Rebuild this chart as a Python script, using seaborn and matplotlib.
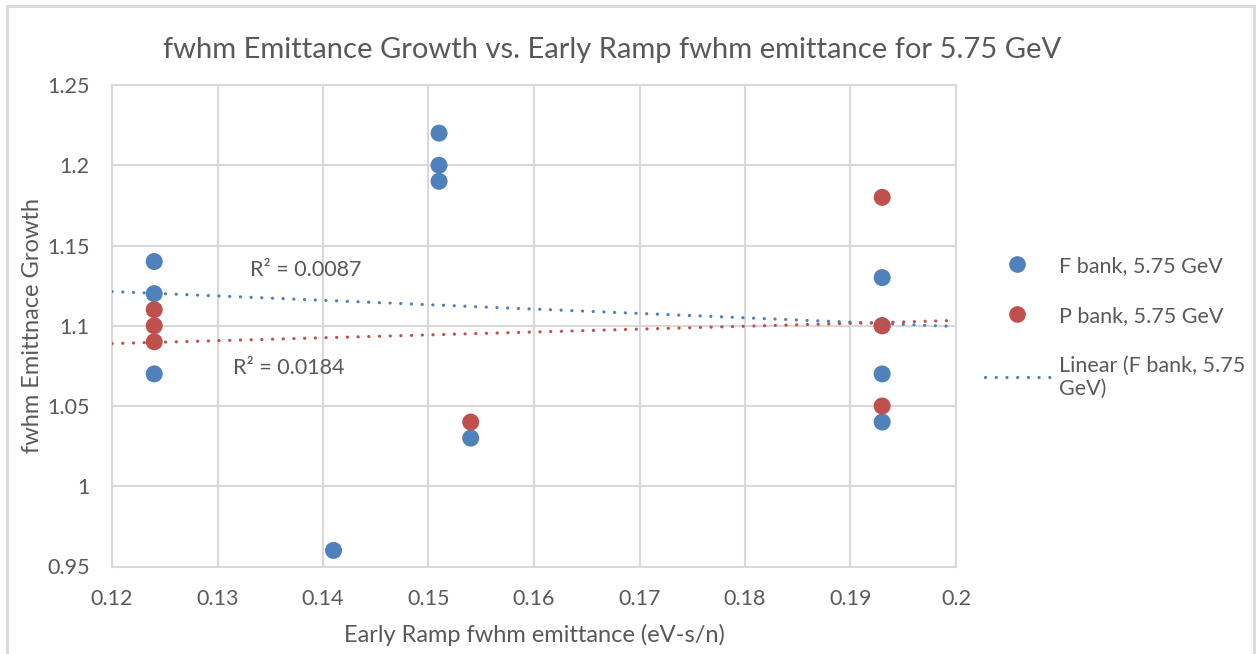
import matplotlib
matplotlib.use("Agg")
import matplotlib.pyplot as plt
import seaborn as sns
import pandas as pd
from matplotlib.patches import Rectangle
from matplotlib.lines import Line2D

# ---- data ----
f_x = [0.124, 0.124, 0.124, 0.141, 0.151, 0.151, 0.151, 0.154, 0.193, 0.193, 0.193, 0.193]
f_y = [1.14, 1.12, 1.07, 0.96, 1.22, 1.20, 1.19, 1.03, 1.13, 1.10, 1.07, 1.04]
p_x = [0.124, 0.124, 0.124, 0.154, 0.193, 0.193, 0.193]
p_y = [1.11, 1.10, 1.09, 1.04, 1.18, 1.10, 1.05]
trend_x = [0.12, 0.20]
trend_f = [1.1213, 1.0995]
trend_p = [1.0889, 1.1033]
series_names = ["F bank, 5.75 GeV", "P bank, 5.75 GeV"]
trend_name = "Linear (F bank, 5.75\nGeV)"
r2_f = "R² = 0.0087"
r2_p = "R² = 0.0184"
x_ticks = [0.12, 0.13, 0.14, 0.15, 0.16, 0.17, 0.18, 0.19, 0.2]
x_tick_labels = ["0.12", "0.13", "0.14", "0.15", "0.16", "0.17", "0.18", "0.19", "0.2"]
y_ticks = [0.95, 1.0, 1.05, 1.1, 1.15, 1.2, 1.25]
y_tick_labels = ["0.95", "1", "1.05", "1.1", "1.15", "1.2", "1.25"]
title = "fwhm Emittance Growth vs. Early Ramp fwhm emittance for 5.75 GeV"
x_label = "Early Ramp fwhm emittance (eV-s/n)"
y_label = "fwhm Emittnace Growth"

BLUE = "#4F81BD"
RED = "#C0504D"
TXT = "#595959"
GRID = "#D9D9D9"
DOTS = (0, (0.05, 3.3))

sns.set_theme(style="white")
plt.rcParams["font.family"] = ["Lato", "DejaVu Sans"]

df = pd.DataFrame({
    "x": f_x + p_x,
    "y": f_y + p_y,
    "series": [series_names[0]] * len(f_x) + [series_names[1]] * len(p_x),
})

fig = plt.figure(figsize=(12.56, 6.54), dpi=100)
ax = fig.add_axes([112 / 1256, 1 - 566.5 / 654, (956 - 112) / 1256, (566.5 - 85) / 654])

sns.scatterplot(data=df, x="x", y="y", hue="series", palette=[BLUE, RED],
                s=150, edgecolor="none", linewidth=0, ax=ax, legend=False, zorder=3)

sns.lineplot(x=trend_x, y=trend_f, color=BLUE, lw=2.3, linestyle=DOTS,
             dash_capstyle="round", zorder=4, ax=ax)
sns.lineplot(x=trend_x, y=trend_p, color=RED, lw=2.3, linestyle=DOTS,
             dash_capstyle="round", zorder=4, ax=ax)

ax.set_xlim(0.12, 0.2)
ax.set_ylim(0.95, 1.25)
ax.set_xticks(x_ticks)
ax.set_xticklabels(x_tick_labels)
ax.set_yticks(y_ticks)
ax.set_yticklabels(y_tick_labels)
ax.grid(True, color=GRID, lw=1.5)
ax.set_axisbelow(True)
for s in ax.spines.values():
    s.set_visible(True)
    s.set_color(GRID)
    s.set_linewidth(1.5)
ax.tick_params(axis="both", length=0, labelsize=15.5, colors=TXT, pad=16)

ax.set_xlabel(x_label, fontsize=17, color=TXT, labelpad=11)
ax.set_ylabel(y_label, fontsize=17, color=TXT, labelpad=3)

fig.text(0.487, 1 - 50 / 654, title, ha="center", va="center", fontsize=21, color=TXT)

fig.text(250 / 1256, 1 - 270 / 654, r2_f, fontsize=15.5, color=TXT, ha="left", va="center")
fig.text(233 / 1256, 1 - 368 / 654, r2_p, fontsize=15.5, color=TXT, ha="left", va="center")

handles = [
    Line2D([], [], marker="o", linestyle="none", markersize=12, color=BLUE, markeredgewidth=0),
    Line2D([], [], marker="o", linestyle="none", markersize=12, color=RED, markeredgewidth=0),
    Line2D([], [], color=BLUE, lw=2.3, linestyle=DOTS, dash_capstyle="round"),
]
leg = fig.legend(handles, series_names + [trend_name], loc="upper left",
                 bbox_to_anchor=(985 / 1256, 1 - 256 / 654), frameon=False,
                 fontsize=15.5, labelspacing=1.38, handlelength=3.0, handletextpad=0.45,
                 borderaxespad=0, borderpad=0)
for t in leg.get_texts():
    t.set_color(TXT)

fig.add_artist(Rectangle((6.5 / 1256, -0.1), (1253.5 - 6.5) / 1256, 1.1 - 6.5 / 654,
                         transform=fig.transFigure, fill=False, edgecolor=GRID, lw=2))

fig.savefig("out.png", dpi=100)
